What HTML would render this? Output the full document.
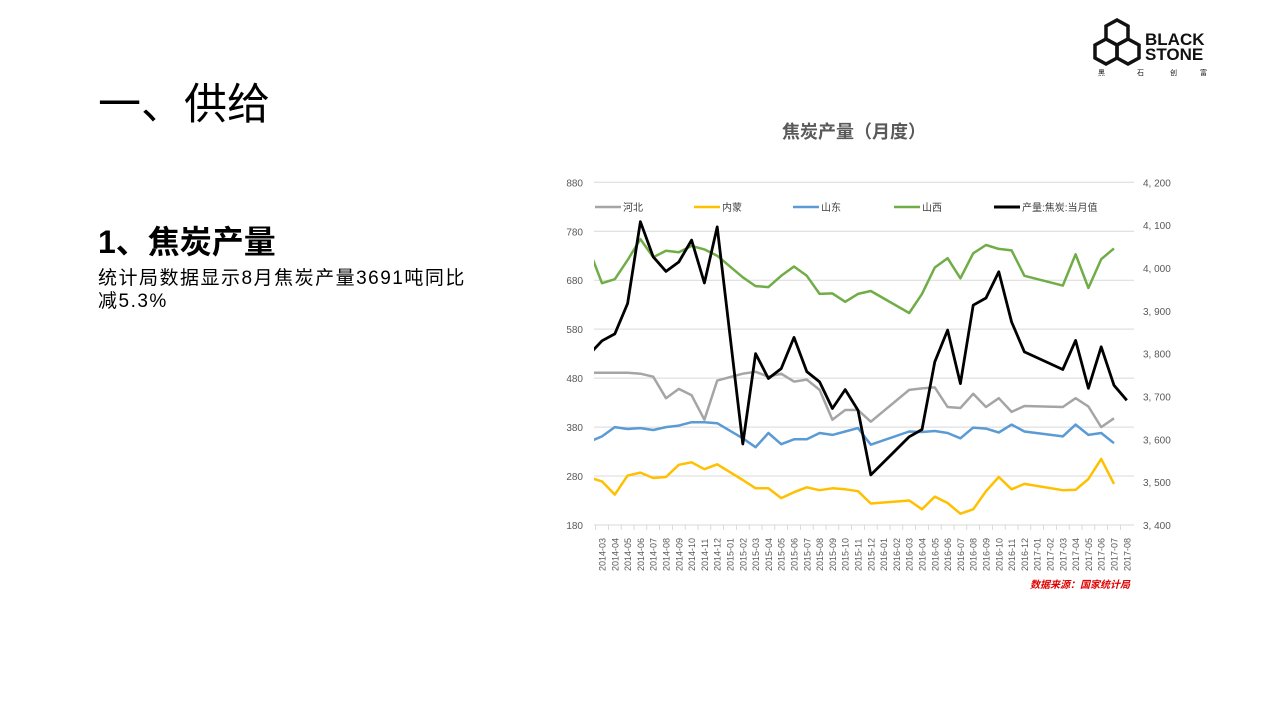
<!DOCTYPE html>
<html><head><meta charset="utf-8">
<style>
body{margin:0;width:1280px;height:720px;background:#fff;position:relative;overflow:hidden;font-family:"Liberation Sans","Noto Sans CJK SC",sans-serif;}
.abs{position:absolute;white-space:nowrap;}
</style></head>
<body>
<div class="abs" style="left:98px;top:70px;font-size:43px;color:#000;">一、供给</div>
<div class="abs" style="left:98px;top:217px;font-size:32px;font-weight:bold;color:#000;">1、焦炭产量</div>
<div class="abs" style="left:98px;top:267px;font-size:19px;letter-spacing:1.5px;line-height:23px;color:#000;">统计局数据显示8月焦炭产量3691吨同比<br>减5.3%</div>

<svg class="abs" style="left:1090px;top:15px" width="130" height="65" viewBox="0 0 130 65">
 <g fill="none" stroke="#111" stroke-width="3.5">
  <polygon points="27,5 38,11 38,24 27,30 16,24 16,11"/>
  <polygon points="16,24 27,30 27,43 16,49 5,43 5,30"/>
  <polygon points="38,24 49,30 49,43 38,49 27,43 27,30"/>
 </g>
 <text x="55" y="30" font-size="17" font-weight="bold" fill="#111" font-family="Liberation Sans">BLACK</text>
 <text x="55" y="45" font-size="17" font-weight="bold" fill="#111" font-family="Liberation Sans">STONE</text>
 <text x="8" y="60" font-size="7" fill="#111">黑</text><text x="47" y="60" font-size="7" fill="#111">石</text>
 <text x="80" y="60" font-size="7" fill="#111">创</text><text x="110" y="60" font-size="7" fill="#111">富</text>
</svg>

<div class="abs" style="left:782px;top:118px;font-size:18px;font-weight:bold;color:#595959;">焦炭产量（月度）</div>
<div class="abs" style="left:1030px;top:576px;font-size:10px;font-weight:bold;font-style:italic;color:#e00000;">数据来源：国家统计局</div>

<svg id="chart" class="abs" style="left:0;top:0" width="1280" height="720"></svg>

<script>
const categories=['2014-02','2014-03','2014-04','2014-05','2014-06','2014-07','2014-08','2014-09','2014-10','2014-11','2014-12','2015-01','2015-02','2015-03','2015-04','2015-05','2015-06','2015-07','2015-08','2015-09','2015-10','2015-11','2015-12','2016-01','2016-02','2016-03','2016-04','2016-05','2016-06','2016-07','2016-08','2016-09','2016-10','2016-11','2016-12','2017-01','2017-02','2017-03','2017-04','2017-05','2017-06','2017-07','2017-08'];
const hebei=[491,491,491,491,489,483,439,458,445,395,475,null,489,493,483,489,473,477,456,395,415,415,391,null,null,456,459,461,421,419,448,421,439,411,423,null,null,421,439,422,380,398,null];
const neimeng=[277,269,242,281,287,276,278,303,308,294,304,null,272,255,255,235,247,257,251,255,253,249,224,null,null,230,212,238,225,203,212,249,278,253,264,null,null,251,252,274,315,264,null];
const shandong=[350,361,380,376,378,374,380,383,390,390,388,null,357,339,368,345,355,355,368,364,371,378,344,null,null,371,370,372,368,357,379,377,369,385,371,null,null,361,385,364,368,347,null];
const shanxi=[742,674,682,721,764,727,740,737,750,743,730,null,686,668,666,689,708,689,652,653,636,652,658,null,null,613,652,706,725,684,735,752,744,741,689,null,null,669,733,664,723,745,null];
const total=[3798,3830,3846,3917,4108,4026,3992,4014,4065,3965,4096,null,3589,3800,3742,3765,3838,3758,3734,3672,3716,3668,3517,null,null,3606,3623,3781,3855,3730,3913,3930,3991,3874,3804,null,null,3763,3831,3719,3816,3726,3691];
const leftTicks=[180,280,380,480,580,680,780,880];
const rightTicks=[3400,3500,3600,3700,3800,3900,4000,4100,4200];
const seriesNames=['河北','内蒙','山东','山西','产量:焦炭:当月值'];

const NS='http://www.w3.org/2000/svg';
const svg=document.getElementById('chart');
const L=594,R=1134,T=182.3,B=525;
const xs=i=>589.2+i*12.8;
const yl=v=>B-(v-180)/700*(B-T);
const yr=v=>B-(v-3400)/800*(B-T);
function mk(tag,attrs,parent){const e=document.createElementNS(NS,tag);for(const k in attrs)e.setAttribute(k,attrs[k]);(parent||svg).appendChild(e);return e;}
const defs=mk('defs',{});
const cp=mk('clipPath',{id:'plotclip'},defs);
mk('rect',{x:L,y:T-20,width:R-L,height:B-T+40},cp);

leftTicks.forEach(v=>{
 const g=mk('line',{x1:L,x2:R,y1:yl(v),y2:yl(v),stroke:'#d9d9d9','stroke-width':1});
 
 
 const t=mk('text',{x:583,y:yl(v)+4,'text-anchor':'end','font-size':10,fill:'#595959'});
 t.textContent=v;
 
 
});
rightTicks.forEach(v=>{
 const t=mk('text',{x:1143,y:yr(v)+4,'font-size':10,fill:'#595959'});
 t.textContent=String(v).replace(/(\d)(\d{3})$/,'$1, $2');
 
 
});
const ax=mk('line',{x1:L,x2:R,y1:B,y2:B,stroke:'#d9d9d9','stroke-width':1});


for(let i=1;i<categories.length;i++){
 const tk=mk('line',{x1:xs(i)-6.4,x2:xs(i)-6.4,y1:B,y2:B+5,stroke:'#d9d9d9'});
 
 
 const t=mk('text',{transform:`translate(${xs(i)+3.5},${B+46}) rotate(-90)`,'font-size':9,fill:'#595959'});
 t.textContent=categories[i];
 
 
}
function line(data,scale,color,w,name){
 let d='';data.forEach((v,i)=>{if(v==null)return;d+=(d?'L':'M')+xs(i).toFixed(1)+','+scale(v).toFixed(1);});
 const p=mk('path',{d:d,fill:'none',stroke:color,'stroke-width':w,'stroke-linejoin':'round','clip-path':'url(#plotclip)'});
 
 
}
line(hebei,yl,'#a5a5a5',2.5,'series-hebei');
line(shandong,yl,'#5b9bd5',2.5,'series-shandong');
line(neimeng,yl,'#ffc000',2.5,'series-neimeng');
line(shanxi,yl,'#70ad47',2.5,'series-shanxi');
line(total,yr,'#000000',2.8,'series-total-output');

const legColors=['#a5a5a5','#ffc000','#5b9bd5','#70ad47','#000000'];
const legX=[595,694,793,894,994];
seriesNames.forEach((n,i)=>{
 const g=mk('g',{});
 
 
 mk('line',{x1:legX[i],x2:legX[i]+26,y1:207,y2:207,stroke:legColors[i],'stroke-width':i==4?3:2.5},g);
 const t=mk('text',{x:legX[i]+28,y:211,'font-size':10,fill:'#404040'},g);
 t.textContent=n;
});
</script>
</body></html>
